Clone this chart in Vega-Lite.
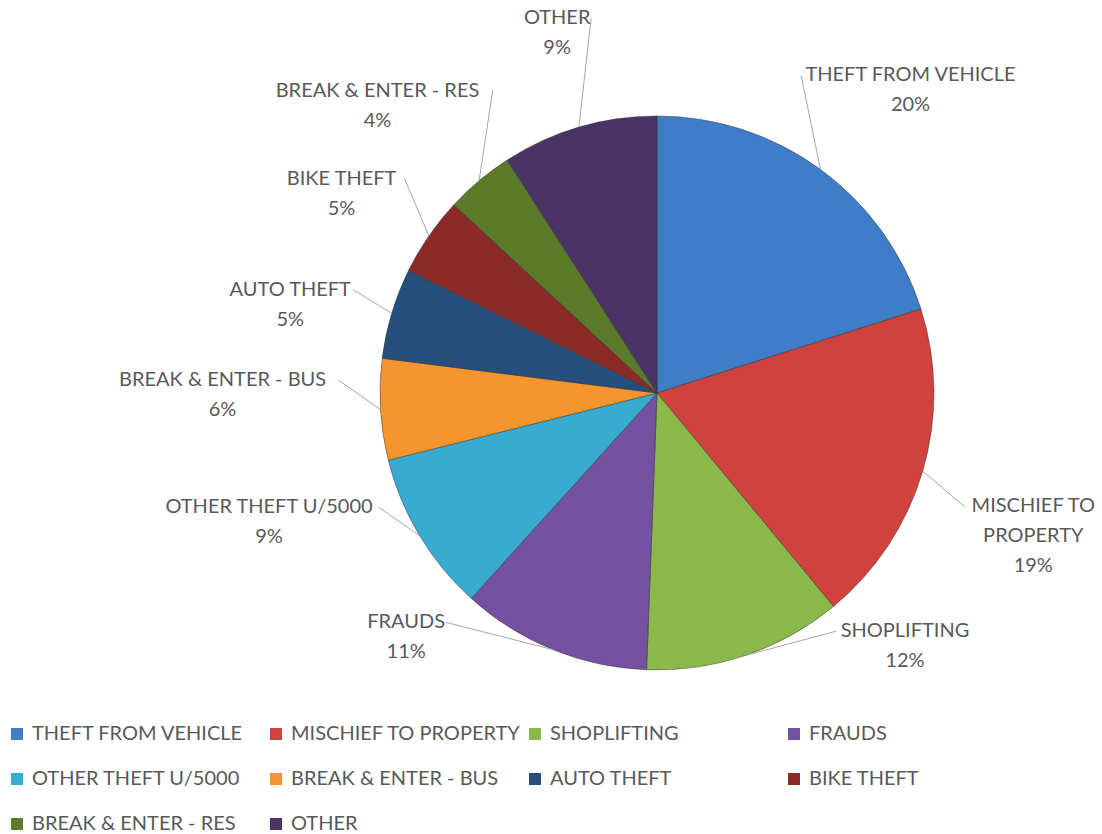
{
  "$schema": "https://vega.github.io/schema/vega-lite/v6.json",
  "width": 700,
  "height": 640,
  "autosize": {"type": "none"},
  "padding": {"left": 307, "top": 73, "right": 95, "bottom": 121},
  "background": "#ffffff",
  "config": {"view": {"stroke": null}},
  "data": {
    "values": [
      {"rank": 1, "category": "THEFT FROM VEHICLE", "label": "THEFT FROM VEHICLE", "pct": 0.201},
      {"rank": 2, "category": "MISCHIEF TO PROPERTY", "label": "MISCHIEF TO\nPROPERTY", "pct": 0.189},
      {"rank": 3, "category": "SHOPLIFTING", "label": "SHOPLIFTING", "pct": 0.116},
      {"rank": 4, "category": "FRAUDS", "label": "FRAUDS", "pct": 0.111},
      {"rank": 5, "category": "OTHER THEFT U/5000", "label": "OTHER THEFT U/5000", "pct": 0.094},
      {"rank": 6, "category": "BREAK & ENTER - BUS", "label": "BREAK & ENTER - BUS", "pct": 0.059},
      {"rank": 7, "category": "AUTO THEFT", "label": "AUTO THEFT", "pct": 0.053},
      {"rank": 8, "category": "BIKE THEFT", "label": "BIKE THEFT", "pct": 0.046},
      {"rank": 9, "category": "BREAK & ENTER - RES", "label": "BREAK & ENTER - RES", "pct": 0.040},
      {"rank": 10, "category": "OTHER", "label": "OTHER", "pct": 0.091}
    ]
  },
  "transform": [
    {"window": [{"op": "sum", "field": "pct", "as": "cum"}], "sort": [{"field": "rank"}], "frame": [null, 0]},
    {"calculate": "datum.cum - datum.pct", "as": "start"},
    {"calculate": "2*PI*(datum.start + datum.pct/2)", "as": "ang"},
    {"calculate": "sin(datum.ang)", "as": "s"},
    {"calculate": "cos(datum.ang)", "as": "c"},
    {"calculate": "length(split(datum.label, '\\n')[0]) * 5.8", "as": "hw"},
    {"calculate": "length(split(datum.label, '\\n')) + 1", "as": "nl"},
    {"calculate": "datum.s*325 + (datum.s < 0 ? -1 : 1)*(datum.hw*abs(datum.s) + 145*pow(max(0, -datum.c), 3))", "as": "lx"},
    {"calculate": "(datum.c > 0 ? -datum.c*min(375, 260 + 160*datum.c) : -265*datum.c - 15*(1 - abs(datum.c)) + 90*pow(max(0, datum.s), 3)) - (datum.nl - 1)*15", "as": "ly"},
    {"calculate": "datum.label + '\\n' + format(datum.pct, '.0%')", "as": "txt"},
    {"calculate": "277*datum.s", "as": "ex1"},
    {"calculate": "-277*datum.c", "as": "ey1"},
    {"calculate": "datum.lx - (datum.s < 0 ? -1 : 1)*(datum.hw + 5)", "as": "ex2"},
    {"calculate": "datum.ly", "as": "ey2"}
  ],
  "layer": [
    {
      "mark": {"type": "arc", "outerRadius": 277, "stroke": "#2a2a2a", "strokeOpacity": 0.45, "strokeWidth": 1},
      "encoding": {
        "theta": {"field": "start", "type": "quantitative", "stack": null, "scale": {"domain": [0, 1]}},
        "theta2": {"field": "cum"},
        "color": {
          "field": "category",
          "type": "nominal",
          "scale": {
            "domain": ["THEFT FROM VEHICLE", "MISCHIEF TO PROPERTY", "SHOPLIFTING", "FRAUDS", "OTHER THEFT U/5000", "BREAK & ENTER - BUS", "AUTO THEFT", "BIKE THEFT", "BREAK & ENTER - RES", "OTHER"],
            "range": ["#3f7dc8", "#d0423e", "#8bb84a", "#7452a0", "#39abd0", "#f5952f", "#264f7e", "#8a2b28", "#5b7b2a", "#4a3466"]
          },
          "legend": {
            "orient": "none",
            "legendX": -300,
            "legendY": 651,
            "title": null,
            "columns": 4,
            "direction": "horizontal",
            "gridAlign": "all",
            "columnPadding": 4,
            "rowPadding": 25,
            "symbolType": "square",
            "symbolSize": 144,
            "symbolStrokeWidth": 0,
            "labelFont": "Lato",
            "labelFontSize": 20,
            "labelColor": "#595959",
            "labelOffset": 5,
            "labelLimit": 400
          }
        }
      }
    },
    {
      "transform": [
        {"fold": ["ex1", "ex2"], "as": ["pt", "xv"]},
        {"calculate": "datum.pt == 'ex1' ? datum.ey1 : datum.ey2", "as": "yv"}
      ],
      "mark": {"type": "line", "color": "#a6a6a6", "strokeWidth": 1},
      "encoding": {
        "x": {"field": "xv", "type": "quantitative", "scale": {"domain": [-350, 350]}, "axis": null},
        "y": {"field": "yv", "type": "quantitative", "scale": {"domain": [-320, 320], "reverse": true}, "axis": null},
        "detail": {"field": "category"},
        "order": {"field": "pt"}
      }
    },
    {
      "mark": {"type": "text", "align": "center", "baseline": "middle", "lineBreak": "\n", "lineHeight": 30, "font": "Lato", "fontSize": 20, "fill": "#595959"},
      "encoding": {
        "x": {"field": "lx", "type": "quantitative", "scale": {"domain": [-350, 350]}, "axis": null},
        "y": {"field": "ly", "type": "quantitative", "scale": {"domain": [-320, 320], "reverse": true}, "axis": null},
        "text": {"field": "txt"}
      }
    }
  ]
}
